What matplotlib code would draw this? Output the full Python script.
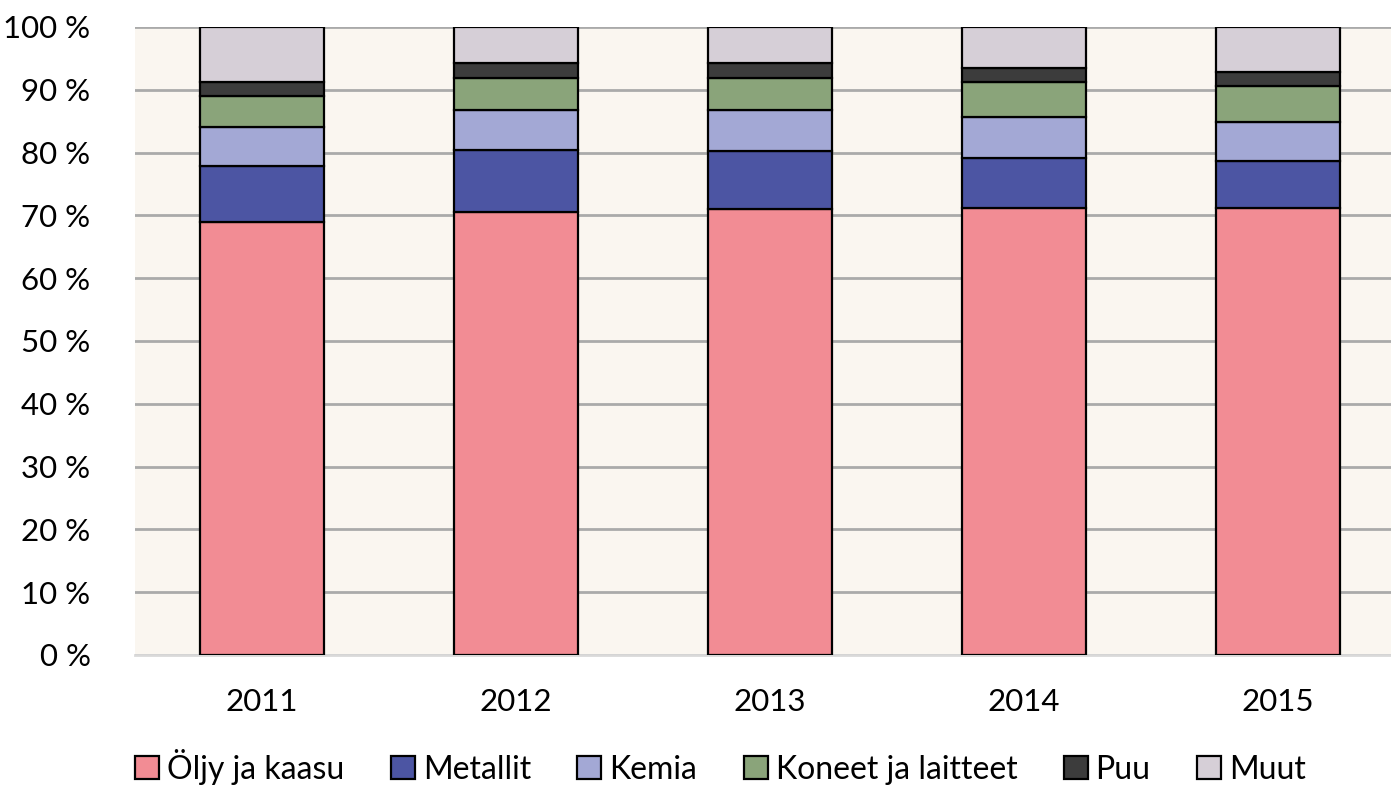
import matplotlib.pyplot as plt
import numpy as np

years = ['2011', '2012', '2013', '2014', '2015']
categories = ['Öljy ja kaasu', 'Metallit', 'Kemia', 'Koneet ja laitteet', 'Puu', 'Muut']
oljy = [68.9, 70.5, 71.0, 71.1, 71.1]
metallit = [9.0, 9.9, 9.3, 8.1, 7.5]
kemia = [6.2, 6.4, 6.5, 6.5, 6.2]
koneet = [4.9, 5.1, 5.1, 5.5, 5.8]
puu = [2.2, 2.3, 2.3, 2.2, 2.3]
muut = [8.8, 5.8, 5.8, 6.6, 7.1]
colors = ['#F28C94', '#4C55A3', '#A3A8D5', '#8AA47A', '#3C3C3C', '#D6CFD7']

plt.rcParams['font.family'] = ['Lato', 'DejaVu Sans']

fig = plt.figure(figsize=(13.91, 7.86), dpi=100)
ax = fig.add_axes([135 / 1391, 1 - 655 / 786, 1270 / 1391, 628 / 786])
ax.set_facecolor('#FAF6F0')

x = np.arange(len(years))
bottom = np.zeros(len(years))
for name, vals, c in zip(categories, [oljy, metallit, kemia, koneet, puu, muut], colors):
    ax.bar(x, vals, 0.485, bottom=bottom, color=c, edgecolor='black', linewidth=1.6,
           label=name, zorder=3)
    bottom += np.array(vals)

ax.set_xlim(-0.5, 4.5)
ax.set_ylim(0, 100)
ax.set_yticks(range(0, 101, 10))
ax.set_yticklabels([f'{v} %' for v in range(0, 101, 10)])
ax.set_xticks(x)
ax.set_xticklabels(years)
ax.grid(axis='y', color='#AAAAAA', linewidth=2, zorder=0)
ax.tick_params(axis='both', length=0, labelsize=22.5)
ax.tick_params(axis='y', pad=32)
ax.tick_params(axis='x', pad=24)
for s in ['top', 'right', 'left']:
    ax.spines[s].set_visible(False)
ax.spines['bottom'].set_color('#D9D9D9')
ax.spines['bottom'].set_linewidth(2)

fig.legend(loc='lower center', bbox_to_anchor=(0.518, -0.035), ncol=6, frameon=False,
           fontsize=23, handlelength=0.75, handleheight=0.75, handletextpad=0.25,
           columnspacing=1.45)

fig.savefig('out.png', dpi=100)
